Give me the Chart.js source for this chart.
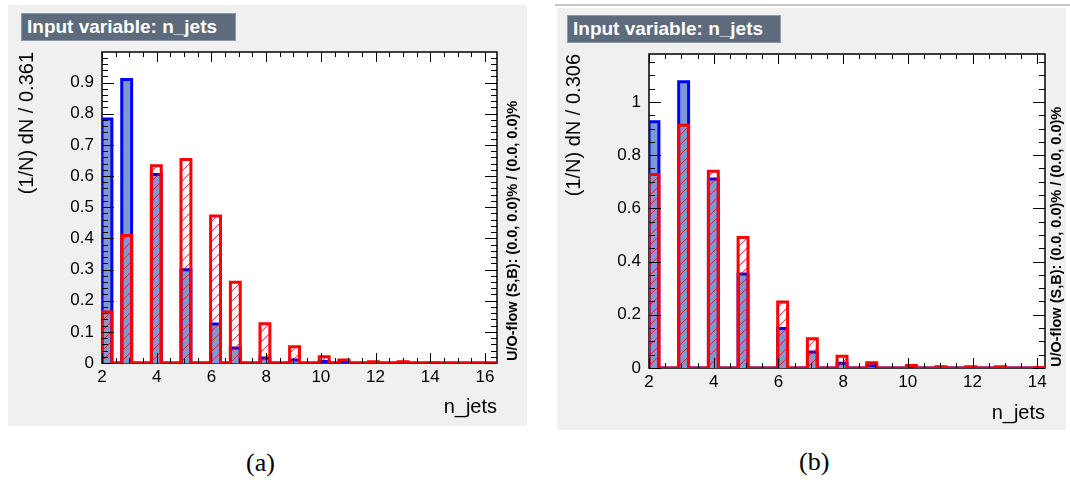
<!DOCTYPE html>
<html>
<head>
<meta charset="utf-8">
<script src="https://cdn.jsdelivr.net/npm/chart.js@4.4.0/dist/chart.umd.min.js"></script>
<style>
body { margin:0; width:1070px; height:480px; background:#fff; position:relative; overflow:hidden; font-family:'Liberation Sans', Arial, sans-serif; }
.pad { position:absolute; background:#f0f0f0; }
.ttl { position:absolute; background:#5d6b7d; border:1px solid #8d99aa; color:#fff; font-weight:bold; font-size:19px; line-height:26px; padding-left:5px; box-sizing:border-box; white-space:nowrap; }
.uo { position:absolute; writing-mode:vertical-rl; transform:rotate(180deg); font-weight:bold; font-size:14.5px; line-height:17px; color:#000; white-space:nowrap; }
.cap { position:absolute; font-family:'Liberation Serif', serif; font-size:26px; line-height:30px; }
canvas { position:absolute; }
</style>
</head>
<body>
<div class="pad" style="left:8px;top:5px;width:519px;height:421px"></div>
<div class="pad" style="left:557px;top:8px;width:509px;height:422px"></div>
<div style="position:absolute;left:555px;top:4px;width:515px;height:2px;background:#c8c8c8"></div>

<div class="ttl" style="left:21px;top:13px;width:215px;height:28px">Input variable: n_jets</div>
<div class="ttl" style="left:567px;top:15px;width:214px;height:28px">Input variable: n_jets</div>

<canvas id="chartA" width="519" height="421" style="left:8px;top:5px"></canvas>
<canvas id="chartB" width="505" height="422" style="left:557px;top:8px"></canvas>

<div class="uo" style="left:504px;top:52px;height:309px">U/O-flow (S,B): (0.0, 0.0)% / (0.0, 0.0)%</div>
<div class="uo" style="left:1048px;top:54px;height:313px">U/O-flow (S,B): (0.0, 0.0)% / (0.0, 0.0)%</div>

<div class="cap" style="left:246px;top:448px">(a)</div>
<div class="cap" style="left:799px;top:447px">(b)</div>

<script>
const NBINS = 40;

// panel (a)
const nJetsA = [2, 3, 4, 5, 6, 7, 8, 9, 10, 11, 12, 13, 14, 15, 16];
const sigA = [0.783, 0.910, 0.605, 0.299, 0.125, 0.048, 0.016, 0.010, 0.005, 0.004, 0.001, 0, 0, 0, 0];
const bkgA = [0.164, 0.409, 0.633, 0.653, 0.472, 0.259, 0.126, 0.052, 0.020, 0.010, 0.004, 0.004, 0.001, 0, 0];
const xTicksA = [2, 4, 6, 8, 10, 12, 14, 16];
const yTicksA = [0, 0.1, 0.2, 0.3, 0.4, 0.5, 0.6, 0.7, 0.8, 0.9];

// panel (b)
const nJetsB = [2, 3, 4, 5, 6, 7, 8, 9, 10, 11, 12, 13, 14];
const sigB = [0.925, 1.076, 0.710, 0.353, 0.148, 0.060, 0.018, 0.008, 0.004, 0.002, 0.001, 0, 0];
const bkgB = [0.727, 0.912, 0.739, 0.490, 0.248, 0.110, 0.044, 0.020, 0.009, 0.005, 0.005, 0.005, 0.002];
const xTicksB = [2, 4, 6, 8, 10, 12, 14];
const yTicksB = [0, 0.2, 0.4, 0.6, 0.8, 1];

const FONT = "'Liberation Sans', Arial, sans-serif";

function hatch(color) {
	const c = document.createElement('canvas');
	c.width = 10; c.height = 10;
	const g = c.getContext('2d');
	g.strokeStyle = color;
	g.lineWidth = 1;
	g.beginPath();
	g.moveTo(0, 10); g.lineTo(10, 0);
	g.moveTo(-5, 5); g.lineTo(5, -5);
	g.moveTo(5, 15); g.lineTo(15, 5);
	g.stroke();
	return g.createPattern(c, 'repeat');
}

// histogram outline as step points, one per bin edge
function histPoints(xs, vals, xMin, bw) {
	const bins = new Array(NBINS).fill(0);
	xs.forEach((v, i) => { bins[Math.floor((v - xMin) / bw + 1e-6)] = vals[i]; });
	const pts = [{x: xMin, y: 0}];
	bins.forEach((b, k) => pts.push({x: xMin + k * bw, y: b}));
	pts.push({x: xMin + NBINS * bw, y: 0});
	return pts;
}

function isMult(v, step) {
	const r = v / step;
	return Math.abs(r - Math.round(r)) < 1e-6;
}

const rootFrame = {
	id: 'rootFrame',
	beforeDatasetsDraw(chart) {
		const {ctx, chartArea: a} = chart;
		ctx.save();
		ctx.fillStyle = '#fff';
		ctx.fillRect(a.left, a.top, a.right - a.left, a.bottom - a.top);
		ctx.strokeStyle = '#000';
		ctx.lineWidth = 1.5;
		ctx.strokeRect(a.left, a.top, a.right - a.left, a.bottom - a.top);
		ctx.restore();
	},
	afterDatasetsDraw(chart, args, o) {
		const {ctx, chartArea: a, scales: {x, y}} = chart;
		ctx.save();
		ctx.strokeStyle = '#000';
		ctx.lineWidth = 1;
		ctx.beginPath();
		for (let i = Math.ceil(x.min / o.xMinor - 1e-6); i * o.xMinor <= x.max + 1e-6; i++) {
			const v = i * o.xMinor;
			const len = isMult(v, o.xMajor) ? 10 : 5;
			const px = Math.round(x.getPixelForValue(v)) + 0.5;
			ctx.moveTo(px, a.bottom); ctx.lineTo(px, a.bottom - len);
			ctx.moveTo(px, a.top); ctx.lineTo(px, a.top + len);
		}
		for (let i = Math.ceil(y.min / o.yMinor - 1e-6); i * o.yMinor <= y.max + 1e-6; i++) {
			const v = i * o.yMinor;
			const len = isMult(v, o.yMajor) ? 12 : 6;
			const py = Math.round(y.getPixelForValue(v)) + 0.5;
			ctx.moveTo(a.left, py); ctx.lineTo(a.left + len, py);
			ctx.moveTo(a.right, py); ctx.lineTo(a.right - len, py);
		}
		ctx.stroke();
		ctx.restore();
	}
};

function makeChart(id, p) {
	const ctx = document.getElementById(id).getContext('2d');
	const xMax = p.xMin + NBINS * p.bw;
	new Chart(ctx, {
		type: 'line',
		data: {
			datasets: [{
				label: 'Background',
				data: histPoints(p.xs, p.bkg, p.xMin, p.bw),
				borderColor: '#ff0000',
				backgroundColor: hatch('rgba(255, 0, 0, 0.8)'),
				borderWidth: 3,
				fill: 'origin',
				stepped: true,
				pointRadius: 0,
				order: 0
			}, {
				label: 'Signal',
				data: histPoints(p.xs, p.sig, p.xMin, p.bw),
				borderColor: '#0000ff',
				backgroundColor: '#7d99d1',
				borderWidth: 3,
				fill: 'origin',
				stepped: true,
				pointRadius: 0,
				order: 1
			}]
		},
		options: {
			responsive: false,
			animation: false,
			layout: { padding: { top: p.top, right: p.right, left: 0, bottom: 0 } },
			plugins: {
				legend: { display: false },
				tooltip: { enabled: false },
				rootFrame: { xMajor: 2, xMinor: 0.5, yMajor: p.yMajor, yMinor: p.yMinor }
			},
			scales: {
				x: {
					type: 'linear',
					min: p.xMin,
					max: xMax,
					grid: { display: false, drawTicks: false },
					border: { display: false },
					afterBuildTicks: s => { s.ticks = p.xTicks.map(v => ({value: v})); },
					afterFit: s => { s.height = p.xH; s.paddingLeft = 0; s.paddingRight = 0; },
					ticks: { font: { family: FONT, size: 17 }, color: '#000', padding: 4, maxRotation: 0, autoSkip: false },
					title: { display: true, text: 'n_jets', align: 'end', color: '#000',
						font: { family: FONT, size: 20 }, padding: { top: 0, bottom: p.xTitlePad } }
				},
				y: {
					type: 'linear',
					min: 0,
					max: p.yMax,
					grid: { display: false, drawTicks: false },
					border: { display: false },
					afterBuildTicks: s => { s.ticks = p.yTicks.map(v => ({value: v})); },
					afterFit: s => { s.width = p.yW; s.paddingTop = 0; s.paddingBottom = 0; },
					ticks: { font: { family: FONT, size: 17 }, color: '#000', padding: 8, autoSkip: false,
						callback: v => String(v) },
					title: { display: true, text: p.yTitle, align: 'end', color: '#000',
						font: { family: FONT, size: 20 }, padding: { top: p.yTitlePad, bottom: 0 } }
				}
			}
		},
		plugins: [rootFrame]
	});
}

makeChart('chartA', {
	xs: nJetsA, sig: sigA, bkg: bkgA, xMin: 2, bw: 0.361, yMax: 0.998,
	xTicks: xTicksA, yTicks: yTicksA, yMajor: 0.1, yMinor: 0.02,
	top: 47, right: 30, yW: 94, xH: 63, xTitlePad: 7, yTitlePad: 7,
	yTitle: '(1/N) dN / 0.361'
});

makeChart('chartB', {
	xs: nJetsB, sig: sigB, bkg: bkgB, xMin: 2, bw: 0.306, yMax: 1.18,
	xTicks: xTicksB, yTicks: yTicksB, yMajor: 0.2, yMinor: 0.05,
	top: 46, right: 17, yW: 92, xH: 62, xTitlePad: 5, yTitlePad: 5,
	yTitle: '(1/N) dN / 0.306'
});
</script>
</body>
</html>
